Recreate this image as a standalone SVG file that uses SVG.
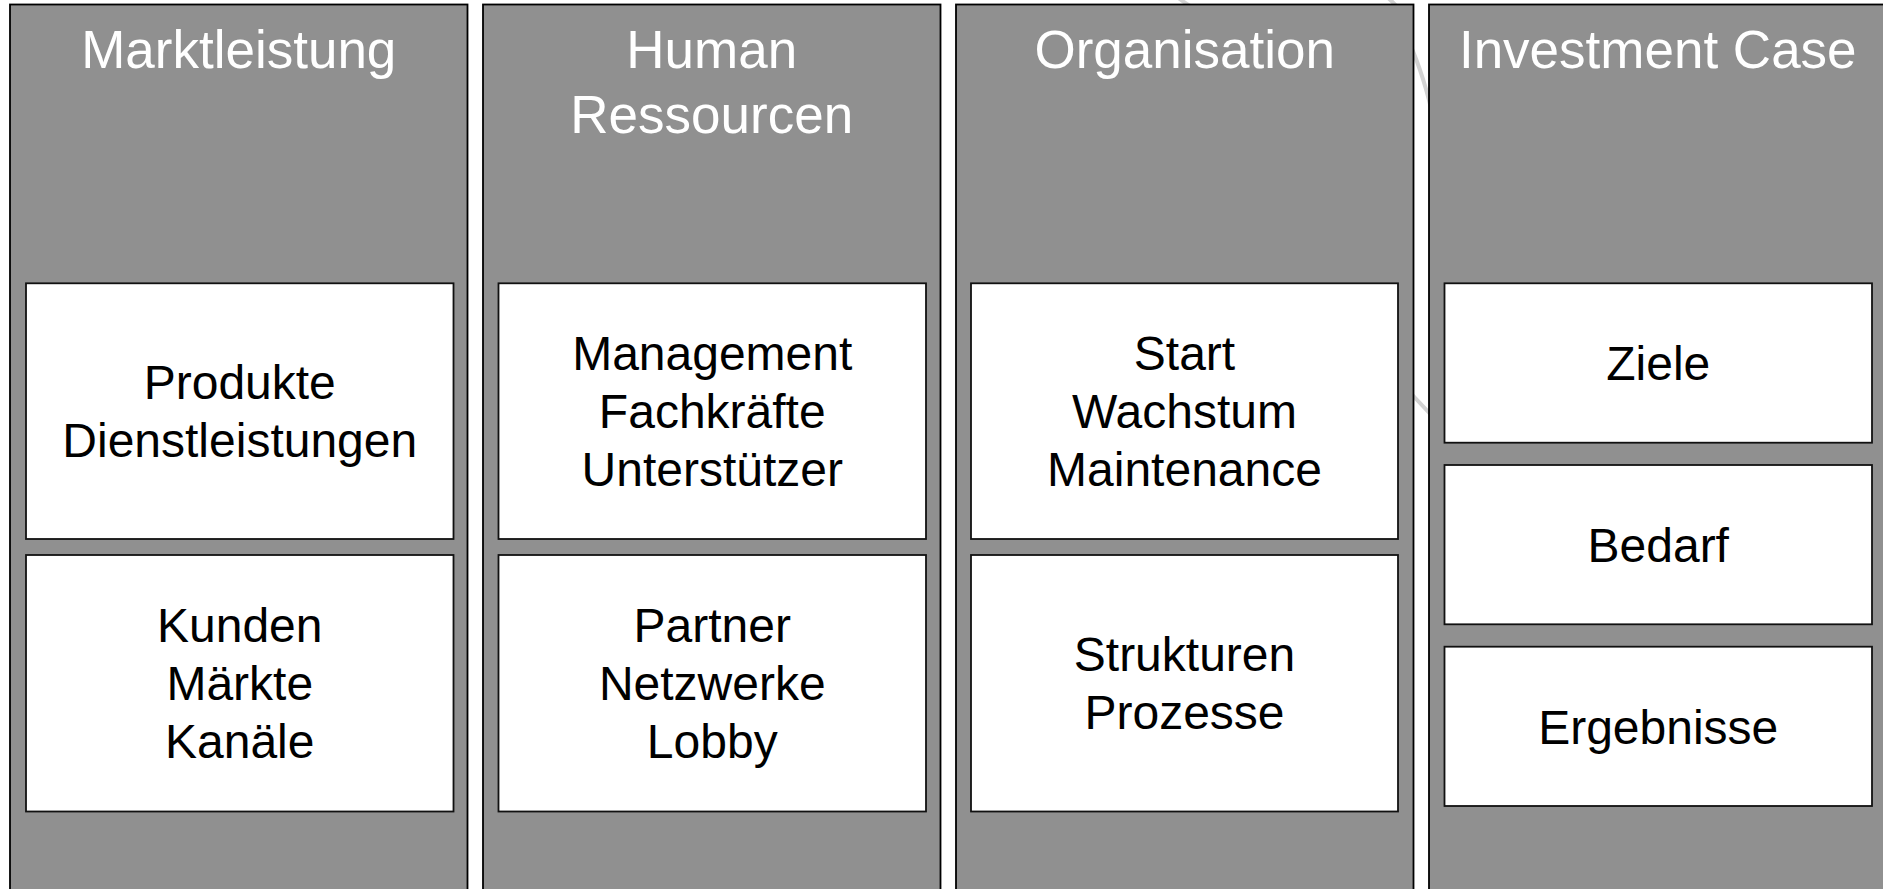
<svg xmlns="http://www.w3.org/2000/svg" width="1883" height="889" viewBox="0 0 1883 889">
<style>
.col{fill:#909090;stroke:#000;stroke-width:1.8}
.box{fill:#fff;stroke:#111;stroke-width:1.8}
.title{font-family:"Liberation Sans",Arial,sans-serif;font-size:53px;fill:#fff;text-anchor:middle}
.txt{font-family:"Liberation Sans",Arial,sans-serif;font-size:48px;fill:#000;text-anchor:middle}
.deco{fill:none;stroke:#d2d2d2;stroke-width:4;stroke-linecap:round}
</style>
<rect width="1883" height="889" fill="#fff"/>
<g id="background-arcs">
<path class="deco" d="M1176,-4 Q1182,1 1190,6"/>
<path class="deco" d="M1386,-4 Q1394,3 1400,10"/>
<path class="deco" d="M1406,36 Q1421,66 1432,112"/>
<path class="deco" d="M1404,386 L1434,418"/>
</g>
<g id="connectors"></g>
<g id="col-marktleistung">
<rect class="col" x="10" y="4.5" width="457.5" height="895"/>
<text class="title" x="238.75" y="68.3">Marktleistung</text>
<rect class="box" x="26" y="283.3" width="427.5" height="255.7"/>
<text class="txt" x="239.75"><tspan x="239.75" y="399.4">Produkte</tspan><tspan x="239.75" y="457.4">Dienstleistungen</tspan></text>
<rect class="box" x="26" y="555" width="427.5" height="256.5"/>
<text class="txt"><tspan x="239.75" y="642.4">Kunden</tspan><tspan x="239.75" y="700.4">Märkte</tspan><tspan x="239.75" y="758.4">Kanäle</tspan></text>
</g>
<g id="col-human-ressourcen">
<rect class="col" x="483" y="4.5" width="457.5" height="895"/>
<text class="title"><tspan x="711.75" y="68.3">Human</tspan><tspan x="711.75" y="132.7">Ressourcen</tspan></text>
<rect class="box" x="498.5" y="283.3" width="427.5" height="255.7"/>
<text class="txt"><tspan x="712.25" y="370.4">Management</tspan><tspan x="712.25" y="428.4">Fachkräfte</tspan><tspan x="712.25" y="486.4">Unterstützer</tspan></text>
<rect class="box" x="498.5" y="555" width="427.5" height="256.5"/>
<text class="txt"><tspan x="712.25" y="642.4">Partner</tspan><tspan x="712.25" y="700.4">Netzwerke</tspan><tspan x="712.25" y="758.4">Lobby</tspan></text>
</g>
<g id="col-organisation">
<rect class="col" x="956" y="4.5" width="457.5" height="895"/>
<text class="title" x="1184.75" y="68.3">Organisation</text>
<rect class="box" x="971" y="283.3" width="427" height="255.7"/>
<text class="txt"><tspan x="1184.5" y="370.4">Start</tspan><tspan x="1184.5" y="428.4">Wachstum</tspan><tspan x="1184.5" y="486.4">Maintenance</tspan></text>
<rect class="box" x="971" y="555" width="427" height="256.5"/>
<text class="txt"><tspan x="1184.5" y="671.4">Strukturen</tspan><tspan x="1184.5" y="729.4">Prozesse</tspan></text>
</g>
<g id="col-investment-case">
<rect class="col" x="1429" y="4.5" width="470" height="895"/>
<text class="title" x="1657.75" y="68.3">Investment Case</text>
<rect class="box" x="1444.5" y="283.3" width="427.5" height="159.4"/>
<text class="txt" x="1658.25" y="380.4">Ziele</text>
<rect class="box" x="1444.5" y="465" width="427.5" height="159.3"/>
<text class="txt" x="1658.25" y="562">Bedarf</text>
<rect class="box" x="1444.5" y="646.7" width="427.5" height="159.3"/>
<text class="txt" x="1658.25" y="743.5">Ergebnisse</text>
</g>
</svg>
